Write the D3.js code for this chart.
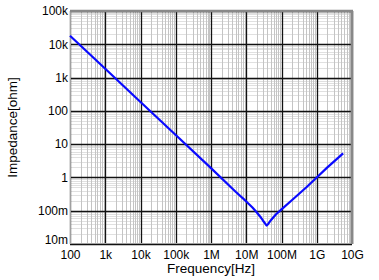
<!DOCTYPE html>
<html>
<head>
<meta charset="utf-8">
<script src="https://cdn.jsdelivr.net/npm/d3@7"></script>
<style>
  body { margin: 0; background: #fff; }
  text { font-family: "Liberation Sans", Arial, sans-serif; }
</style>
</head>
<body>
<script>
// impedance curve
const freqHz = [100, 1e3, 1e4, 1e5, 1e6, 5e6, 1e7, 1.5e7, 2e7, 2.5e7, 3e7, 3.5e7, 3.8e7, 4.2e7, 5e7, 7e7, 1e8, 2e8, 5e8, 1e9, 2e9, 5.6e9];
const impedanceOhm = [18000, 1840, 185, 18.8, 1.9, 0.37, 0.19, 0.125, 0.088, 0.066, 0.05, 0.04, 0.036, 0.04, 0.052, 0.078, 0.11, 0.21, 0.5, 1.0, 2.0, 5.3];

const xTicks = [1e2, 1e3, 1e4, 1e5, 1e6, 1e7, 1e8, 1e9, 1e10];
const xTickLabels = ['100', '1k', '10k', '100k', '1M', '10M', '100M', '1G', '10G'];
const yTicks = [1e-2, 1e-1, 1, 10, 100, 1e3, 1e4, 1e5];
const yTickLabels = ['10m', '100m', '1', '10', '100', '1k', '10k', '100k'];

const width = 379;
const height = 280;
const margin = { top: 11, right: 27, bottom: 36, left: 70 };
const w = width - margin.left - margin.right;
const h = height - margin.top - margin.bottom;

const svg = d3.select('body')
  .append('svg')
  .attr('width', width)
  .attr('height', height);

const g = svg.append('g')
  .attr('transform', `translate(${margin.left},${margin.top})`);

const x = d3.scaleLog().domain([1e2, 1e10]).range([0, w]);
const y = d3.scaleLog().domain([1e-2, 1e5]).range([h, 0]);

// minor grid values (2..9 in every decade)
const minor = (ticks) => {
  const out = [];
  ticks.slice(0, -1).forEach(t => {
    for (let k = 2; k <= 9; k++) out.push(t * k);
  });
  return out;
};

g.append('g').selectAll('line')
  .data(minor(yTicks))
  .enter().append('line')
  .attr('x1', 0).attr('x2', w)
  .attr('y1', d => Math.round(y(d)) + 0.5)
  .attr('y2', d => Math.round(y(d)) + 0.5)
  .attr('stroke', '#e0e0e0');

g.append('g').selectAll('line')
  .data(minor(xTicks))
  .enter().append('line')
  .attr('y1', 0).attr('y2', h)
  .attr('x1', d => Math.round(x(d)) + 0.5)
  .attr('x2', d => Math.round(x(d)) + 0.5)
  .attr('stroke', '#c4c4c4');

// major grid
g.append('g').selectAll('line')
  .data(yTicks)
  .enter().append('line')
  .attr('x1', 0).attr('x2', w)
  .attr('y1', d => Math.round(y(d)) + 0.5)
  .attr('y2', d => Math.round(y(d)) + 0.5)
  .attr('stroke', '#111')
  .attr('stroke-width', 1.3);

g.append('g').selectAll('line')
  .data(xTicks)
  .enter().append('line')
  .attr('y1', 0).attr('y2', h)
  .attr('x1', d => Math.round(x(d)) + 0.5)
  .attr('x2', d => Math.round(x(d)) + 0.5)
  .attr('stroke', '#111')
  .attr('stroke-width', 1.3);

// frame: light on left/bottom, darker on top/right
g.append('line').attr('x1', 0.5).attr('x2', 0.5).attr('y1', 0).attr('y2', h)
  .attr('stroke', '#a0a0a0');
g.append('line').attr('x1', 0).attr('x2', w).attr('y1', h - 0.5).attr('y2', h - 0.5)
  .attr('stroke', '#a0a0a0');
g.append('line').attr('x1', 0).attr('x2', w + 1).attr('y1', 0).attr('y2', 0)
  .attr('stroke', '#888').attr('stroke-width', 2.5);
g.append('line').attr('x1', w).attr('x2', w).attr('y1', 0).attr('y2', h)
  .attr('stroke', '#888').attr('stroke-width', 2.5);

// axes
const xAxis = d3.axisBottom(x)
  .tickValues(xTicks)
  .tickFormat((d, i) => xTickLabels[i])
  .tickSize(0)
  .tickPadding(6);
const yAxis = d3.axisLeft(y)
  .tickValues(yTicks)
  .tickFormat((d, i) => yTickLabels[i])
  .tickSize(0)
  .tickPadding(2);

g.append('g')
  .attr('transform', `translate(0,${h})`)
  .call(xAxis)
  .call(s => s.select('.domain').remove())
  .selectAll('text')
  .style('font-size', '12px')
  .attr('fill', '#000');

g.append('g')
  .call(yAxis)
  .call(s => s.select('.domain').remove())
  .selectAll('text')
  .style('font-size', '12px')
  .attr('fill', '#000')
  // bottom label sits a little above its gridline
  .attr('y', (d, i) => i === 0 ? -4 : 0);

// curve
const line = d3.line()
  .x((d, i) => x(freqHz[i]))
  .y(d => y(d));

g.append('path')
  .datum(impedanceOhm)
  .attr('fill', 'none')
  .attr('stroke', '#0a0aff')
  .attr('stroke-width', 2.2)
  .attr('stroke-linejoin', 'round')
  .attr('d', line);

// titles
svg.append('text')
  .attr('x', margin.left + w / 2)
  .attr('y', 273)
  .attr('text-anchor', 'middle')
  .style('font-size', '13.5px')
  .text('Frequency[Hz]');

svg.append('text')
  .attr('transform', `translate(17,${margin.top + h / 2}) rotate(-90)`)
  .attr('text-anchor', 'middle')
  .style('font-size', '13.5px')
  .text('Impedance[ohm]');
</script>
</body>
</html>
